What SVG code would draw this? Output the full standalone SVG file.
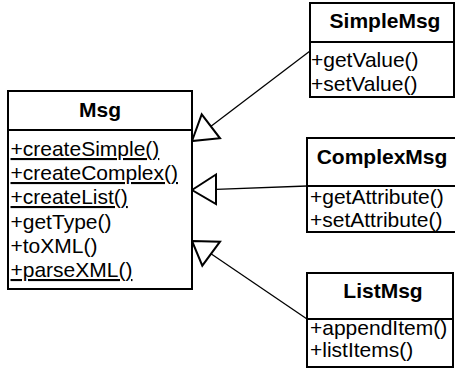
<svg xmlns="http://www.w3.org/2000/svg" width="455" height="370" viewBox="0 0 455 370">
<style>
.box{fill:#fff;stroke:#000;stroke-width:2}
.div{stroke:#000;stroke-width:2}
.t{font-family:"Liberation Sans",Arial,sans-serif;font-size:21px;font-weight:bold;text-anchor:middle;fill:#000}
.a{font-family:"Liberation Sans",Arial,sans-serif;font-size:21px;fill:#000}
.u{text-decoration:underline}
.ln{stroke:#000;stroke-width:1.3;fill:none}
.tri{fill:#fff;stroke:#000;stroke-width:2;stroke-linejoin:miter}
</style>
<g id="connectors">
<line class="ln" x1="211" y1="126.3" x2="310" y2="51"/>
<polygon class="tri" points="192,141 201.7,114.3 220,138.3"/>
<line class="ln" x1="216" y1="189.3" x2="307" y2="186"/>
<polygon class="tri" points="192,190 216,174.5 216,204"/>
<line class="ln" x1="211" y1="253.7" x2="307" y2="319"/>
<polygon class="tri" points="192,241 220,241.7 202.3,265.7"/>
</g>
<g id="Msg">
<rect class="box" x="8" y="91" width="184" height="198"/>
<line class="div" x1="8" y1="130" x2="192" y2="130"/>
<text class="t" x="100" y="116.7">Msg</text>
<text class="a u" x="10.5" y="156">+createSimple()</text>
<text class="a u" x="10.5" y="180">+createComplex()</text>
<text class="a u" x="10.5" y="204">+createList()</text>
<text class="a" x="10.5" y="229">+getType()</text>
<text class="a" x="10.5" y="253">+toXML()</text>
<text class="a u" x="10.5" y="277">+parseXML()</text>
</g>
<g id="SimpleMsg">
<rect class="box" x="310" y="3" width="144" height="94"/>
<line class="div" x1="310" y1="42" x2="454" y2="42"/>
<text class="t" x="385" y="28">SimpleMsg</text>
<text class="a" x="311" y="67">+getValue()</text>
<text class="a" x="311" y="91">+setValue()</text>
</g>
<g id="ComplexMsg">
<rect class="box" x="307" y="138" width="150" height="94"/>
<line class="div" x1="307" y1="186" x2="457" y2="186"/>
<text class="t" x="382" y="164.3">ComplexMsg</text>
<text class="a" x="310" y="204">+getAttribute()</text>
<text class="a" x="310" y="227">+setAttribute()</text>
</g>
<g id="ListMsg">
<rect class="box" x="307" y="273" width="146" height="94"/>
<line class="div" x1="307" y1="319" x2="453" y2="319"/>
<text class="t" x="383" y="298.3">ListMsg</text>
<text class="a" x="310" y="335">+appendItem()</text>
<text class="a" x="310" y="357.3">+listItems()</text>
</g>
</svg>
